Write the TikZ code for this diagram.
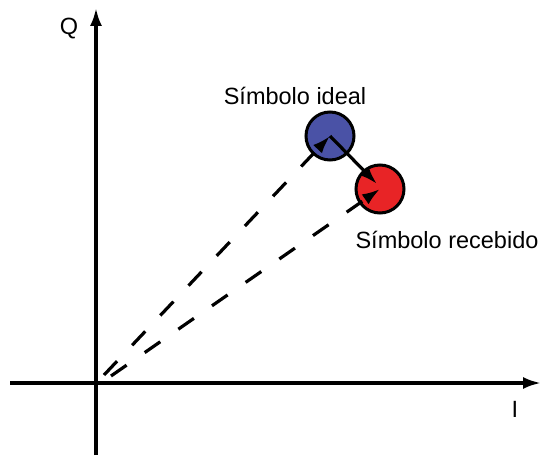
\documentclass[tikz,border=0pt]{standalone}
\usepackage{fontspec}
\setmainfont{Liberation Sans}
\usepackage{xcolor}
\usetikzlibrary{positioning,arrows.meta}
\definecolor{idealblue}{RGB}{74,82,166}
\definecolor{recvred}{RGB}{232,36,38}

\begin{document}
\begin{tikzpicture}[x=1pt,y=-1pt, every node/.style={font=\fontsize{23.5}{27}\selectfont}]
  \tikzstyle{symbol}=[circle, draw=black, line width=3pt, minimum size=48pt, inner sep=0pt]
  \tikzstyle{axis}=[line width=3.2pt, -{Latex[length=18pt,width=12pt]}]
  \tikzstyle{vector}=[line width=3.2pt, dash pattern=on 19pt off 22pt, -{Latex[length=18pt,width=12pt]}]
  \useasboundingbox (0,0) rectangle (541,457);
  % axes
  \coordinate (ibeg) at (10,383);
  \coordinate (iend) at (541,383);
  \coordinate (qbeg) at (96,455);
  \coordinate (qend) at (96,8);
  \draw[axis] (ibeg) -- (iend);
  \draw[axis] (qbeg) -- (qend);
  \node (qlabel) at (69,29) {Q};
  \node (ilabel) at (515,409) {I};
  % symbols
  \node[symbol, fill=idealblue] (ideal) at (330,136) {};
  \node[symbol, fill=recvred] (recv) at (380,189) {};
  \node (ideallabel) at (295,96) {Símbolo ideal};
  \node (recvlabel) at (447,240) {Símbolo recebido};
  % vectors
  \coordinate (o1) at (104,375);
  \coordinate (o2) at (111,376);
  \coordinate (rtip) at (377,184);
  \draw[vector] (o1) -- (ideal.center);
  \draw[vector] (o2) -- (recv.center);
  \draw[axis] (ideal.center) -- (rtip);
\end{tikzpicture}
\end{document}
